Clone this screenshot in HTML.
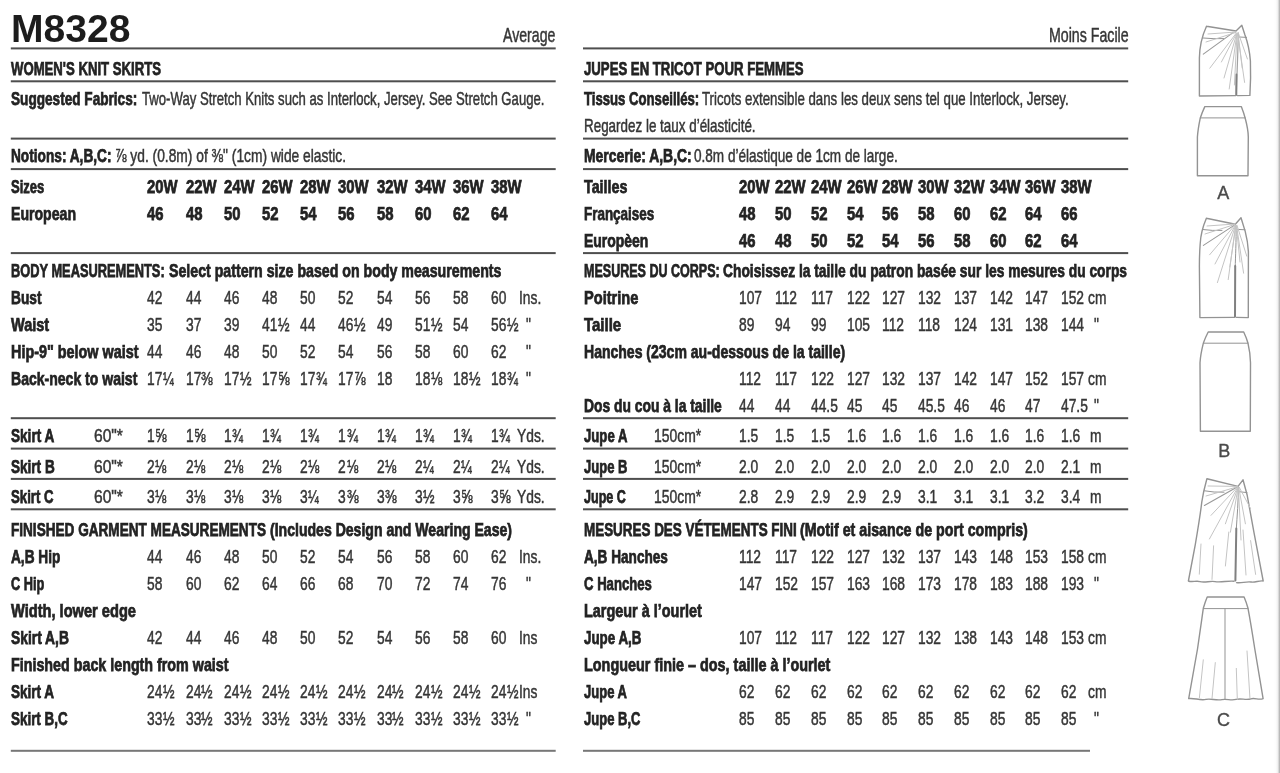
<!DOCTYPE html>
<html><head><meta charset="utf-8"><title>M8328</title>
<style>
html,body{margin:0;padding:0;background:#fff;}
body{width:1280px;height:773px;position:relative;overflow:hidden;font-family:"Liberation Sans",sans-serif;}
.t{position:absolute;white-space:pre;line-height:1;transform-origin:0 0;color:#363636;font-size:19px;-webkit-text-stroke:0.5px #363636;}
.b{font-weight:700;color:#232323;-webkit-text-stroke:0.75px #232323;}
#tx{position:absolute;left:0;top:0;width:1280px;height:773px;filter:blur(0.45px);}
.h{color:#1c1c1c;-webkit-text-stroke:0;}
.f{-webkit-text-stroke:0.55px #363636;}
.r{position:absolute;height:2px;background:#5e5e5e;}
svg{position:absolute;left:0;top:0;}
</style></head><body>
<div id="tx">
<svg width="1280" height="773" viewBox="0 0 1280 773"><rect x="10.8" y="47.40" width="544.9" height="2.00" fill="#4e4e4e"/><rect x="583.0" y="47.40" width="545.2" height="2.00" fill="#4e4e4e"/><rect x="10.8" y="80.30" width="544.9" height="2.00" fill="#4e4e4e"/><rect x="583.0" y="80.30" width="545.2" height="2.00" fill="#4e4e4e"/><rect x="10.8" y="137.60" width="544.9" height="2.00" fill="#4e4e4e"/><rect x="583.0" y="137.60" width="545.2" height="2.00" fill="#4e4e4e"/><rect x="10.8" y="168.10" width="544.9" height="2.00" fill="#4e4e4e"/><rect x="583.0" y="168.10" width="545.2" height="2.00" fill="#4e4e4e"/><rect x="10.8" y="252.10" width="544.9" height="2.00" fill="#4e4e4e"/><rect x="583.0" y="252.10" width="545.2" height="2.00" fill="#4e4e4e"/><rect x="10.8" y="417.20" width="544.9" height="2.00" fill="#4e4e4e"/><rect x="583.0" y="417.20" width="545.2" height="2.00" fill="#4e4e4e"/><rect x="10.8" y="447.60" width="544.9" height="2.00" fill="#4e4e4e"/><rect x="583.0" y="447.60" width="545.2" height="2.00" fill="#4e4e4e"/><rect x="10.8" y="477.90" width="544.9" height="2.00" fill="#4e4e4e"/><rect x="583.0" y="477.90" width="545.2" height="2.00" fill="#4e4e4e"/><rect x="10.8" y="508.30" width="544.9" height="2.00" fill="#4e4e4e"/><rect x="583.0" y="508.30" width="545.2" height="2.00" fill="#4e4e4e"/><rect x="10.8" y="749.80" width="544.9" height="2.00" fill="#777"/><rect x="583.0" y="749.80" width="507.0" height="2.00" fill="#777"/></svg>
<span class="t b h" style="left:11.20px;top:9.51px;transform:scaleX(1.0143);font-size:38.5px">M8328</span>
<span class="t" style="left:503.40px;top:24.32px;transform:scaleX(0.6731);font-size:21px">Average</span>
<span class="t b" style="left:11.30px;top:59.02px;transform:scaleX(0.6922)">WOMEN'S KNIT SKIRTS</span>
<span class="t b" style="left:11.30px;top:89.02px;transform:scaleX(0.7163)">Suggested Fabrics:</span>
<span class="t" style="left:142.30px;top:89.02px;transform:scaleX(0.6917)">Two-Way Stretch Knits such as Interlock, Jersey. See Stretch Gauge.</span>
<span class="t b" style="left:11.30px;top:146.02px;transform:scaleX(0.7195)">Notions: A,B,C:</span>
<span class="t" style="left:115.00px;top:146.02px;transform:scaleX(0.7259)">⅞ yd. (0.8m) of ⅜" (1cm) wide elastic.</span>
<span class="t b" style="left:11.30px;top:177.02px;transform:scaleX(0.6853)">Sizes</span>
<span class="t b" style="left:147.30px;top:177.02px;transform:scaleX(0.7820)">20W</span>
<span class="t b" style="left:185.52px;top:177.02px;transform:scaleX(0.7820)">22W</span>
<span class="t b" style="left:223.74px;top:177.02px;transform:scaleX(0.7820)">24W</span>
<span class="t b" style="left:261.96px;top:177.02px;transform:scaleX(0.7820)">26W</span>
<span class="t b" style="left:300.18px;top:177.02px;transform:scaleX(0.7820)">28W</span>
<span class="t b" style="left:338.40px;top:177.02px;transform:scaleX(0.7820)">30W</span>
<span class="t b" style="left:376.62px;top:177.02px;transform:scaleX(0.7820)">32W</span>
<span class="t b" style="left:414.84px;top:177.02px;transform:scaleX(0.7820)">34W</span>
<span class="t b" style="left:453.06px;top:177.02px;transform:scaleX(0.7820)">36W</span>
<span class="t b" style="left:491.28px;top:177.02px;transform:scaleX(0.7820)">38W</span>
<span class="t b" style="left:11.30px;top:204.02px;transform:scaleX(0.7418)">European</span>
<span class="t b" style="left:147.30px;top:204.02px;transform:scaleX(0.7820)">46</span>
<span class="t b" style="left:185.52px;top:204.02px;transform:scaleX(0.7820)">48</span>
<span class="t b" style="left:223.74px;top:204.02px;transform:scaleX(0.7820)">50</span>
<span class="t b" style="left:261.96px;top:204.02px;transform:scaleX(0.7820)">52</span>
<span class="t b" style="left:300.18px;top:204.02px;transform:scaleX(0.7820)">54</span>
<span class="t b" style="left:338.40px;top:204.02px;transform:scaleX(0.7820)">56</span>
<span class="t b" style="left:376.62px;top:204.02px;transform:scaleX(0.7820)">58</span>
<span class="t b" style="left:414.84px;top:204.02px;transform:scaleX(0.7820)">60</span>
<span class="t b" style="left:453.06px;top:204.02px;transform:scaleX(0.7820)">62</span>
<span class="t b" style="left:491.28px;top:204.02px;transform:scaleX(0.7820)">64</span>
<span class="t b" style="left:11.30px;top:261.02px;transform:scaleX(0.6751)">BODY MEASUREMENTS:</span>
<span class="t b" style="left:168.60px;top:261.02px;transform:scaleX(0.7460)">Select pattern size based on body measurements</span>
<span class="t b" style="left:11.30px;top:288.02px;transform:scaleX(0.7222)">Bust</span>
<span class="t" style="left:147.30px;top:288.02px;transform:scaleX(0.7270)">42</span>
<span class="t" style="left:185.52px;top:288.02px;transform:scaleX(0.7270)">44</span>
<span class="t" style="left:223.74px;top:288.02px;transform:scaleX(0.7270)">46</span>
<span class="t" style="left:261.96px;top:288.02px;transform:scaleX(0.7270)">48</span>
<span class="t" style="left:300.18px;top:288.02px;transform:scaleX(0.7270)">50</span>
<span class="t" style="left:338.40px;top:288.02px;transform:scaleX(0.7270)">52</span>
<span class="t" style="left:376.62px;top:288.02px;transform:scaleX(0.7270)">54</span>
<span class="t" style="left:414.84px;top:288.02px;transform:scaleX(0.7270)">56</span>
<span class="t" style="left:453.06px;top:288.02px;transform:scaleX(0.7270)">58</span>
<span class="t" style="left:491.28px;top:288.02px;transform:scaleX(0.7270)">60</span>
<span class="t" style="left:518.60px;top:288.02px;transform:scaleX(0.7270)">Ins.</span>
<span class="t b" style="left:11.30px;top:315.02px;transform:scaleX(0.7625)">Waist</span>
<span class="t" style="left:147.30px;top:315.02px;transform:scaleX(0.7270)">35</span>
<span class="t" style="left:185.52px;top:315.02px;transform:scaleX(0.7270)">37</span>
<span class="t" style="left:223.74px;top:315.02px;transform:scaleX(0.7270)">39</span>
<span class="t" style="left:261.96px;top:315.02px;transform:scaleX(0.7270)">41</span>
<span class="t f" style="left:277.82px;top:315.02px;transform:scaleX(0.7270)">½</span>
<span class="t" style="left:300.18px;top:315.02px;transform:scaleX(0.7270)">44</span>
<span class="t" style="left:338.40px;top:315.02px;transform:scaleX(0.7270)">46</span>
<span class="t f" style="left:354.26px;top:315.02px;transform:scaleX(0.7270)">½</span>
<span class="t" style="left:376.62px;top:315.02px;transform:scaleX(0.7270)">49</span>
<span class="t" style="left:414.84px;top:315.02px;transform:scaleX(0.7270)">51</span>
<span class="t f" style="left:430.70px;top:315.02px;transform:scaleX(0.7270)">½</span>
<span class="t" style="left:453.06px;top:315.02px;transform:scaleX(0.7270)">54</span>
<span class="t" style="left:491.28px;top:315.02px;transform:scaleX(0.7270)">56</span>
<span class="t f" style="left:507.14px;top:315.02px;transform:scaleX(0.7270)">½</span>
<span class="t" style="left:526.00px;top:315.02px;transform:scaleX(0.7270)">"</span>
<span class="t b" style="left:11.30px;top:342.02px;transform:scaleX(0.7570)">Hip-9" below waist</span>
<span class="t" style="left:147.30px;top:342.02px;transform:scaleX(0.7270)">44</span>
<span class="t" style="left:185.52px;top:342.02px;transform:scaleX(0.7270)">46</span>
<span class="t" style="left:223.74px;top:342.02px;transform:scaleX(0.7270)">48</span>
<span class="t" style="left:261.96px;top:342.02px;transform:scaleX(0.7270)">50</span>
<span class="t" style="left:300.18px;top:342.02px;transform:scaleX(0.7270)">52</span>
<span class="t" style="left:338.40px;top:342.02px;transform:scaleX(0.7270)">54</span>
<span class="t" style="left:376.62px;top:342.02px;transform:scaleX(0.7270)">56</span>
<span class="t" style="left:414.84px;top:342.02px;transform:scaleX(0.7270)">58</span>
<span class="t" style="left:453.06px;top:342.02px;transform:scaleX(0.7270)">60</span>
<span class="t" style="left:491.28px;top:342.02px;transform:scaleX(0.7270)">62</span>
<span class="t" style="left:526.00px;top:342.02px;transform:scaleX(0.7270)">"</span>
<span class="t b" style="left:11.30px;top:369.02px;transform:scaleX(0.7383)">Back-neck to waist</span>
<span class="t" style="left:147.30px;top:369.02px;transform:scaleX(0.7270)">17</span>
<span class="t f" style="left:163.16px;top:369.02px;transform:scaleX(0.6761)">¼</span>
<span class="t" style="left:185.52px;top:369.02px;transform:scaleX(0.7270)">17</span>
<span class="t f" style="left:201.38px;top:369.02px;transform:scaleX(0.7270)">⅜</span>
<span class="t" style="left:223.74px;top:369.02px;transform:scaleX(0.7270)">17</span>
<span class="t f" style="left:239.60px;top:369.02px;transform:scaleX(0.7270)">½</span>
<span class="t" style="left:261.96px;top:369.02px;transform:scaleX(0.7270)">17</span>
<span class="t f" style="left:277.82px;top:369.02px;transform:scaleX(0.7270)">⅝</span>
<span class="t" style="left:300.18px;top:369.02px;transform:scaleX(0.7270)">17</span>
<span class="t f" style="left:316.04px;top:369.02px;transform:scaleX(0.6906)">¾</span>
<span class="t" style="left:338.40px;top:369.02px;transform:scaleX(0.7270)">17</span>
<span class="t f" style="left:354.26px;top:369.02px;transform:scaleX(0.7270)">⅞</span>
<span class="t" style="left:376.62px;top:369.02px;transform:scaleX(0.7270)">18</span>
<span class="t" style="left:414.84px;top:369.02px;transform:scaleX(0.7270)">18</span>
<span class="t f" style="left:430.70px;top:369.02px;transform:scaleX(0.7052)">⅛</span>
<span class="t" style="left:453.06px;top:369.02px;transform:scaleX(0.7270)">18</span>
<span class="t f" style="left:468.92px;top:369.02px;transform:scaleX(0.7270)">½</span>
<span class="t" style="left:491.28px;top:369.02px;transform:scaleX(0.7270)">18</span>
<span class="t f" style="left:507.14px;top:369.02px;transform:scaleX(0.6906)">¾</span>
<span class="t" style="left:526.00px;top:369.02px;transform:scaleX(0.7270)">"</span>
<span class="t b" style="left:11.30px;top:426.02px;transform:scaleX(0.7151)">Skirt A</span>
<span class="t" style="left:94.30px;top:426.02px;transform:scaleX(0.8191)">60"*</span>
<span class="t" style="left:147.30px;top:426.02px;transform:scaleX(0.7270)">1</span>
<span class="t f" style="left:155.48px;top:426.02px;transform:scaleX(0.7270)">⅝</span>
<span class="t" style="left:185.52px;top:426.02px;transform:scaleX(0.7270)">1</span>
<span class="t f" style="left:193.70px;top:426.02px;transform:scaleX(0.7270)">⅝</span>
<span class="t" style="left:223.74px;top:426.02px;transform:scaleX(0.7270)">1</span>
<span class="t f" style="left:231.92px;top:426.02px;transform:scaleX(0.6906)">¾</span>
<span class="t" style="left:261.96px;top:426.02px;transform:scaleX(0.7270)">1</span>
<span class="t f" style="left:270.14px;top:426.02px;transform:scaleX(0.6906)">¾</span>
<span class="t" style="left:300.18px;top:426.02px;transform:scaleX(0.7270)">1</span>
<span class="t f" style="left:308.36px;top:426.02px;transform:scaleX(0.6906)">¾</span>
<span class="t" style="left:338.40px;top:426.02px;transform:scaleX(0.7270)">1</span>
<span class="t f" style="left:346.58px;top:426.02px;transform:scaleX(0.6906)">¾</span>
<span class="t" style="left:376.62px;top:426.02px;transform:scaleX(0.7270)">1</span>
<span class="t f" style="left:384.80px;top:426.02px;transform:scaleX(0.6906)">¾</span>
<span class="t" style="left:414.84px;top:426.02px;transform:scaleX(0.7270)">1</span>
<span class="t f" style="left:423.02px;top:426.02px;transform:scaleX(0.6906)">¾</span>
<span class="t" style="left:453.06px;top:426.02px;transform:scaleX(0.7270)">1</span>
<span class="t f" style="left:461.24px;top:426.02px;transform:scaleX(0.6906)">¾</span>
<span class="t" style="left:491.28px;top:426.02px;transform:scaleX(0.7270)">1</span>
<span class="t f" style="left:499.46px;top:426.02px;transform:scaleX(0.6906)">¾</span>
<span class="t" style="left:517.00px;top:426.02px;transform:scaleX(0.7270)">Yds.</span>
<span class="t b" style="left:11.30px;top:457.02px;transform:scaleX(0.7135)">Skirt B</span>
<span class="t" style="left:94.30px;top:457.02px;transform:scaleX(0.8191)">60"*</span>
<span class="t" style="left:147.30px;top:457.02px;transform:scaleX(0.7270)">2</span>
<span class="t f" style="left:155.48px;top:457.02px;transform:scaleX(0.7052)">⅛</span>
<span class="t" style="left:185.52px;top:457.02px;transform:scaleX(0.7270)">2</span>
<span class="t f" style="left:193.70px;top:457.02px;transform:scaleX(0.7052)">⅛</span>
<span class="t" style="left:223.74px;top:457.02px;transform:scaleX(0.7270)">2</span>
<span class="t f" style="left:231.92px;top:457.02px;transform:scaleX(0.7052)">⅛</span>
<span class="t" style="left:261.96px;top:457.02px;transform:scaleX(0.7270)">2</span>
<span class="t f" style="left:270.14px;top:457.02px;transform:scaleX(0.7052)">⅛</span>
<span class="t" style="left:300.18px;top:457.02px;transform:scaleX(0.7270)">2</span>
<span class="t f" style="left:308.36px;top:457.02px;transform:scaleX(0.7052)">⅛</span>
<span class="t" style="left:338.40px;top:457.02px;transform:scaleX(0.7270)">2</span>
<span class="t f" style="left:346.58px;top:457.02px;transform:scaleX(0.7052)">⅛</span>
<span class="t" style="left:376.62px;top:457.02px;transform:scaleX(0.7270)">2</span>
<span class="t f" style="left:384.80px;top:457.02px;transform:scaleX(0.7052)">⅛</span>
<span class="t" style="left:414.84px;top:457.02px;transform:scaleX(0.7270)">2</span>
<span class="t f" style="left:423.02px;top:457.02px;transform:scaleX(0.6761)">¼</span>
<span class="t" style="left:453.06px;top:457.02px;transform:scaleX(0.7270)">2</span>
<span class="t f" style="left:461.24px;top:457.02px;transform:scaleX(0.6761)">¼</span>
<span class="t" style="left:491.28px;top:457.02px;transform:scaleX(0.7270)">2</span>
<span class="t f" style="left:499.46px;top:457.02px;transform:scaleX(0.6761)">¼</span>
<span class="t" style="left:517.00px;top:457.02px;transform:scaleX(0.7270)">Yds.</span>
<span class="t b" style="left:11.30px;top:487.02px;transform:scaleX(0.6939)">Skirt C</span>
<span class="t" style="left:94.30px;top:487.02px;transform:scaleX(0.8191)">60"*</span>
<span class="t" style="left:147.30px;top:487.02px;transform:scaleX(0.7270)">3</span>
<span class="t f" style="left:155.48px;top:487.02px;transform:scaleX(0.7052)">⅛</span>
<span class="t" style="left:185.52px;top:487.02px;transform:scaleX(0.7270)">3</span>
<span class="t f" style="left:193.70px;top:487.02px;transform:scaleX(0.7052)">⅛</span>
<span class="t" style="left:223.74px;top:487.02px;transform:scaleX(0.7270)">3</span>
<span class="t f" style="left:231.92px;top:487.02px;transform:scaleX(0.7052)">⅛</span>
<span class="t" style="left:261.96px;top:487.02px;transform:scaleX(0.7270)">3</span>
<span class="t f" style="left:270.14px;top:487.02px;transform:scaleX(0.7052)">⅛</span>
<span class="t" style="left:300.18px;top:487.02px;transform:scaleX(0.7270)">3</span>
<span class="t f" style="left:308.36px;top:487.02px;transform:scaleX(0.6761)">¼</span>
<span class="t" style="left:338.40px;top:487.02px;transform:scaleX(0.7270)">3</span>
<span class="t f" style="left:346.58px;top:487.02px;transform:scaleX(0.7270)">⅜</span>
<span class="t" style="left:376.62px;top:487.02px;transform:scaleX(0.7270)">3</span>
<span class="t f" style="left:384.80px;top:487.02px;transform:scaleX(0.7270)">⅜</span>
<span class="t" style="left:414.84px;top:487.02px;transform:scaleX(0.7270)">3</span>
<span class="t f" style="left:423.02px;top:487.02px;transform:scaleX(0.7270)">½</span>
<span class="t" style="left:453.06px;top:487.02px;transform:scaleX(0.7270)">3</span>
<span class="t f" style="left:461.24px;top:487.02px;transform:scaleX(0.7270)">⅝</span>
<span class="t" style="left:491.28px;top:487.02px;transform:scaleX(0.7270)">3</span>
<span class="t f" style="left:499.46px;top:487.02px;transform:scaleX(0.7270)">⅝</span>
<span class="t" style="left:517.00px;top:487.02px;transform:scaleX(0.7270)">Yds.</span>
<span class="t b" style="left:11.30px;top:520.02px;transform:scaleX(0.7147)">FINISHED GARMENT MEASUREMENTS</span>
<span class="t b" style="left:269.80px;top:520.02px;transform:scaleX(0.7402)">(Includes Design and Wearing Ease)</span>
<span class="t b" style="left:11.30px;top:547.02px;transform:scaleX(0.7186)">A,B Hip</span>
<span class="t" style="left:147.30px;top:547.02px;transform:scaleX(0.7270)">44</span>
<span class="t" style="left:185.52px;top:547.02px;transform:scaleX(0.7270)">46</span>
<span class="t" style="left:223.74px;top:547.02px;transform:scaleX(0.7270)">48</span>
<span class="t" style="left:261.96px;top:547.02px;transform:scaleX(0.7270)">50</span>
<span class="t" style="left:300.18px;top:547.02px;transform:scaleX(0.7270)">52</span>
<span class="t" style="left:338.40px;top:547.02px;transform:scaleX(0.7270)">54</span>
<span class="t" style="left:376.62px;top:547.02px;transform:scaleX(0.7270)">56</span>
<span class="t" style="left:414.84px;top:547.02px;transform:scaleX(0.7270)">58</span>
<span class="t" style="left:453.06px;top:547.02px;transform:scaleX(0.7270)">60</span>
<span class="t" style="left:491.28px;top:547.02px;transform:scaleX(0.7270)">62</span>
<span class="t" style="left:518.60px;top:547.02px;transform:scaleX(0.7270)">Ins.</span>
<span class="t b" style="left:11.30px;top:574.02px;transform:scaleX(0.6733)">C Hip</span>
<span class="t" style="left:147.30px;top:574.02px;transform:scaleX(0.7270)">58</span>
<span class="t" style="left:185.52px;top:574.02px;transform:scaleX(0.7270)">60</span>
<span class="t" style="left:223.74px;top:574.02px;transform:scaleX(0.7270)">62</span>
<span class="t" style="left:261.96px;top:574.02px;transform:scaleX(0.7270)">64</span>
<span class="t" style="left:300.18px;top:574.02px;transform:scaleX(0.7270)">66</span>
<span class="t" style="left:338.40px;top:574.02px;transform:scaleX(0.7270)">68</span>
<span class="t" style="left:376.62px;top:574.02px;transform:scaleX(0.7270)">70</span>
<span class="t" style="left:414.84px;top:574.02px;transform:scaleX(0.7270)">72</span>
<span class="t" style="left:453.06px;top:574.02px;transform:scaleX(0.7270)">74</span>
<span class="t" style="left:491.28px;top:574.02px;transform:scaleX(0.7270)">76</span>
<span class="t" style="left:526.00px;top:574.02px;transform:scaleX(0.7270)">"</span>
<span class="t b" style="left:11.30px;top:601.02px;transform:scaleX(0.7697)">Width, lower edge</span>
<span class="t b" style="left:11.30px;top:628.02px;transform:scaleX(0.7279)">Skirt A,B</span>
<span class="t" style="left:147.30px;top:628.02px;transform:scaleX(0.7270)">42</span>
<span class="t" style="left:185.52px;top:628.02px;transform:scaleX(0.7270)">44</span>
<span class="t" style="left:223.74px;top:628.02px;transform:scaleX(0.7270)">46</span>
<span class="t" style="left:261.96px;top:628.02px;transform:scaleX(0.7270)">48</span>
<span class="t" style="left:300.18px;top:628.02px;transform:scaleX(0.7270)">50</span>
<span class="t" style="left:338.40px;top:628.02px;transform:scaleX(0.7270)">52</span>
<span class="t" style="left:376.62px;top:628.02px;transform:scaleX(0.7270)">54</span>
<span class="t" style="left:414.84px;top:628.02px;transform:scaleX(0.7270)">56</span>
<span class="t" style="left:453.06px;top:628.02px;transform:scaleX(0.7270)">58</span>
<span class="t" style="left:491.28px;top:628.02px;transform:scaleX(0.7270)">60</span>
<span class="t" style="left:518.60px;top:628.02px;transform:scaleX(0.7270)">Ins</span>
<span class="t b" style="left:11.30px;top:655.02px;transform:scaleX(0.7519)">Finished back length from waist</span>
<span class="t b" style="left:11.30px;top:682.02px;transform:scaleX(0.7118)">Skirt A</span>
<span class="t" style="left:147.30px;top:682.02px;transform:scaleX(0.7270)">24</span>
<span class="t f" style="left:163.16px;top:682.02px;transform:scaleX(0.7270)">½</span>
<span class="t" style="left:185.52px;top:682.02px;transform:scaleX(0.7270)">24</span>
<span class="t f" style="left:201.38px;top:682.02px;transform:scaleX(0.7270)">½</span>
<span class="t" style="left:223.74px;top:682.02px;transform:scaleX(0.7270)">24</span>
<span class="t f" style="left:239.60px;top:682.02px;transform:scaleX(0.7270)">½</span>
<span class="t" style="left:261.96px;top:682.02px;transform:scaleX(0.7270)">24</span>
<span class="t f" style="left:277.82px;top:682.02px;transform:scaleX(0.7270)">½</span>
<span class="t" style="left:300.18px;top:682.02px;transform:scaleX(0.7270)">24</span>
<span class="t f" style="left:316.04px;top:682.02px;transform:scaleX(0.7270)">½</span>
<span class="t" style="left:338.40px;top:682.02px;transform:scaleX(0.7270)">24</span>
<span class="t f" style="left:354.26px;top:682.02px;transform:scaleX(0.7270)">½</span>
<span class="t" style="left:376.62px;top:682.02px;transform:scaleX(0.7270)">24</span>
<span class="t f" style="left:392.48px;top:682.02px;transform:scaleX(0.7270)">½</span>
<span class="t" style="left:414.84px;top:682.02px;transform:scaleX(0.7270)">24</span>
<span class="t f" style="left:430.70px;top:682.02px;transform:scaleX(0.7270)">½</span>
<span class="t" style="left:453.06px;top:682.02px;transform:scaleX(0.7270)">24</span>
<span class="t f" style="left:468.92px;top:682.02px;transform:scaleX(0.7270)">½</span>
<span class="t" style="left:491.28px;top:682.02px;transform:scaleX(0.7270)">24</span>
<span class="t f" style="left:507.14px;top:682.02px;transform:scaleX(0.7270)">½</span>
<span class="t" style="left:518.60px;top:682.02px;transform:scaleX(0.7270)">Ins</span>
<span class="t b" style="left:11.30px;top:709.02px;transform:scaleX(0.7065)">Skirt B,C</span>
<span class="t" style="left:147.30px;top:709.02px;transform:scaleX(0.7270)">33</span>
<span class="t f" style="left:163.16px;top:709.02px;transform:scaleX(0.7270)">½</span>
<span class="t" style="left:185.52px;top:709.02px;transform:scaleX(0.7270)">33</span>
<span class="t f" style="left:201.38px;top:709.02px;transform:scaleX(0.7270)">½</span>
<span class="t" style="left:223.74px;top:709.02px;transform:scaleX(0.7270)">33</span>
<span class="t f" style="left:239.60px;top:709.02px;transform:scaleX(0.7270)">½</span>
<span class="t" style="left:261.96px;top:709.02px;transform:scaleX(0.7270)">33</span>
<span class="t f" style="left:277.82px;top:709.02px;transform:scaleX(0.7270)">½</span>
<span class="t" style="left:300.18px;top:709.02px;transform:scaleX(0.7270)">33</span>
<span class="t f" style="left:316.04px;top:709.02px;transform:scaleX(0.7270)">½</span>
<span class="t" style="left:338.40px;top:709.02px;transform:scaleX(0.7270)">33</span>
<span class="t f" style="left:354.26px;top:709.02px;transform:scaleX(0.7270)">½</span>
<span class="t" style="left:376.62px;top:709.02px;transform:scaleX(0.7270)">33</span>
<span class="t f" style="left:392.48px;top:709.02px;transform:scaleX(0.7270)">½</span>
<span class="t" style="left:414.84px;top:709.02px;transform:scaleX(0.7270)">33</span>
<span class="t f" style="left:430.70px;top:709.02px;transform:scaleX(0.7270)">½</span>
<span class="t" style="left:453.06px;top:709.02px;transform:scaleX(0.7270)">33</span>
<span class="t f" style="left:468.92px;top:709.02px;transform:scaleX(0.7270)">½</span>
<span class="t" style="left:491.28px;top:709.02px;transform:scaleX(0.7270)">33</span>
<span class="t f" style="left:507.14px;top:709.02px;transform:scaleX(0.7270)">½</span>
<span class="t" style="left:526.00px;top:709.02px;transform:scaleX(0.7270)">"</span>
<span class="t" style="left:1048.60px;top:24.32px;transform:scaleX(0.6753);font-size:21px">Moins Facile</span>
<span class="t b" style="left:583.60px;top:59.02px;transform:scaleX(0.6934)">JUPES EN TRICOT POUR FEMMES</span>
<span class="t b" style="left:583.60px;top:89.02px;transform:scaleX(0.6919)">Tissus Conseillés:</span>
<span class="t" style="left:702.30px;top:89.02px;transform:scaleX(0.6986)">Tricots extensible dans les deux sens tel que Interlock, Jersey.</span>
<span class="t" style="left:583.60px;top:116.02px;transform:scaleX(0.7064)">Regardez le taux d’élasticité.</span>
<span class="t b" style="left:583.60px;top:146.02px;transform:scaleX(0.7320)">Mercerie: A,B,C:</span>
<span class="t" style="left:694.00px;top:146.02px;transform:scaleX(0.7143)">0.8m d’élastique de 1cm de large.</span>
<span class="t b" style="left:583.60px;top:177.02px;transform:scaleX(0.7517)">Tailles</span>
<span class="t b" style="left:739.30px;top:177.02px;transform:scaleX(0.7820)">20W</span>
<span class="t b" style="left:775.05px;top:177.02px;transform:scaleX(0.7820)">22W</span>
<span class="t b" style="left:810.80px;top:177.02px;transform:scaleX(0.7820)">24W</span>
<span class="t b" style="left:846.55px;top:177.02px;transform:scaleX(0.7820)">26W</span>
<span class="t b" style="left:882.30px;top:177.02px;transform:scaleX(0.7820)">28W</span>
<span class="t b" style="left:918.05px;top:177.02px;transform:scaleX(0.7820)">30W</span>
<span class="t b" style="left:953.80px;top:177.02px;transform:scaleX(0.7820)">32W</span>
<span class="t b" style="left:989.55px;top:177.02px;transform:scaleX(0.7820)">34W</span>
<span class="t b" style="left:1025.30px;top:177.02px;transform:scaleX(0.7820)">36W</span>
<span class="t b" style="left:1061.05px;top:177.02px;transform:scaleX(0.7820)">38W</span>
<span class="t b" style="left:583.60px;top:204.02px;transform:scaleX(0.7070)">Françaises</span>
<span class="t b" style="left:739.30px;top:204.02px;transform:scaleX(0.7820)">48</span>
<span class="t b" style="left:775.05px;top:204.02px;transform:scaleX(0.7820)">50</span>
<span class="t b" style="left:810.80px;top:204.02px;transform:scaleX(0.7820)">52</span>
<span class="t b" style="left:846.55px;top:204.02px;transform:scaleX(0.7820)">54</span>
<span class="t b" style="left:882.30px;top:204.02px;transform:scaleX(0.7820)">56</span>
<span class="t b" style="left:918.05px;top:204.02px;transform:scaleX(0.7820)">58</span>
<span class="t b" style="left:953.80px;top:204.02px;transform:scaleX(0.7820)">60</span>
<span class="t b" style="left:989.55px;top:204.02px;transform:scaleX(0.7820)">62</span>
<span class="t b" style="left:1025.30px;top:204.02px;transform:scaleX(0.7820)">64</span>
<span class="t b" style="left:1061.05px;top:204.02px;transform:scaleX(0.7820)">66</span>
<span class="t b" style="left:583.60px;top:231.02px;transform:scaleX(0.7350)">Europèen</span>
<span class="t b" style="left:739.30px;top:231.02px;transform:scaleX(0.7820)">46</span>
<span class="t b" style="left:775.05px;top:231.02px;transform:scaleX(0.7820)">48</span>
<span class="t b" style="left:810.80px;top:231.02px;transform:scaleX(0.7820)">50</span>
<span class="t b" style="left:846.55px;top:231.02px;transform:scaleX(0.7820)">52</span>
<span class="t b" style="left:882.30px;top:231.02px;transform:scaleX(0.7820)">54</span>
<span class="t b" style="left:918.05px;top:231.02px;transform:scaleX(0.7820)">56</span>
<span class="t b" style="left:953.80px;top:231.02px;transform:scaleX(0.7820)">58</span>
<span class="t b" style="left:989.55px;top:231.02px;transform:scaleX(0.7820)">60</span>
<span class="t b" style="left:1025.30px;top:231.02px;transform:scaleX(0.7820)">62</span>
<span class="t b" style="left:1061.05px;top:231.02px;transform:scaleX(0.7820)">64</span>
<span class="t b" style="left:583.60px;top:261.02px;transform:scaleX(0.6592)">MESURES DU CORPS:</span>
<span class="t b" style="left:722.80px;top:261.02px;transform:scaleX(0.7260)">Choisissez la taille du patron basée sur les mesures du corps</span>
<span class="t b" style="left:583.60px;top:288.02px;transform:scaleX(0.7691)">Poitrine</span>
<span class="t" style="left:739.30px;top:288.02px;transform:scaleX(0.7270)">107</span>
<span class="t" style="left:775.05px;top:288.02px;transform:scaleX(0.7270)">112</span>
<span class="t" style="left:810.80px;top:288.02px;transform:scaleX(0.7270)">117</span>
<span class="t" style="left:846.55px;top:288.02px;transform:scaleX(0.7270)">122</span>
<span class="t" style="left:882.30px;top:288.02px;transform:scaleX(0.7270)">127</span>
<span class="t" style="left:918.05px;top:288.02px;transform:scaleX(0.7270)">132</span>
<span class="t" style="left:953.80px;top:288.02px;transform:scaleX(0.7270)">137</span>
<span class="t" style="left:989.55px;top:288.02px;transform:scaleX(0.7270)">142</span>
<span class="t" style="left:1025.30px;top:288.02px;transform:scaleX(0.7270)">147</span>
<span class="t" style="left:1061.05px;top:288.02px;transform:scaleX(0.7270)">152</span>
<span class="t" style="left:1087.50px;top:288.02px;transform:scaleX(0.7270)">cm</span>
<span class="t b" style="left:583.60px;top:315.02px;transform:scaleX(0.7886)">Taille</span>
<span class="t" style="left:739.30px;top:315.02px;transform:scaleX(0.7270)">89</span>
<span class="t" style="left:775.05px;top:315.02px;transform:scaleX(0.7270)">94</span>
<span class="t" style="left:810.80px;top:315.02px;transform:scaleX(0.7270)">99</span>
<span class="t" style="left:846.55px;top:315.02px;transform:scaleX(0.7270)">105</span>
<span class="t" style="left:882.30px;top:315.02px;transform:scaleX(0.7270)">112</span>
<span class="t" style="left:918.05px;top:315.02px;transform:scaleX(0.7270)">118</span>
<span class="t" style="left:953.80px;top:315.02px;transform:scaleX(0.7270)">124</span>
<span class="t" style="left:989.55px;top:315.02px;transform:scaleX(0.7270)">131</span>
<span class="t" style="left:1025.30px;top:315.02px;transform:scaleX(0.7270)">138</span>
<span class="t" style="left:1061.05px;top:315.02px;transform:scaleX(0.7270)">144</span>
<span class="t" style="left:1094.00px;top:315.02px;transform:scaleX(0.7270)">"</span>
<span class="t b" style="left:583.60px;top:342.02px;transform:scaleX(0.7381)">Hanches (23cm au-dessous de la taille)</span>
<span class="t" style="left:739.30px;top:369.02px;transform:scaleX(0.7270)">112</span>
<span class="t" style="left:775.05px;top:369.02px;transform:scaleX(0.7270)">117</span>
<span class="t" style="left:810.80px;top:369.02px;transform:scaleX(0.7270)">122</span>
<span class="t" style="left:846.55px;top:369.02px;transform:scaleX(0.7270)">127</span>
<span class="t" style="left:882.30px;top:369.02px;transform:scaleX(0.7270)">132</span>
<span class="t" style="left:918.05px;top:369.02px;transform:scaleX(0.7270)">137</span>
<span class="t" style="left:953.80px;top:369.02px;transform:scaleX(0.7270)">142</span>
<span class="t" style="left:989.55px;top:369.02px;transform:scaleX(0.7270)">147</span>
<span class="t" style="left:1025.30px;top:369.02px;transform:scaleX(0.7270)">152</span>
<span class="t" style="left:1061.05px;top:369.02px;transform:scaleX(0.7270)">157</span>
<span class="t" style="left:1087.50px;top:369.02px;transform:scaleX(0.7270)">cm</span>
<span class="t b" style="left:583.60px;top:396.02px;transform:scaleX(0.7291)">Dos du cou à la taille</span>
<span class="t" style="left:739.30px;top:396.02px;transform:scaleX(0.7270)">44</span>
<span class="t" style="left:775.05px;top:396.02px;transform:scaleX(0.7270)">44</span>
<span class="t" style="left:810.80px;top:396.02px;transform:scaleX(0.7270)">44.5</span>
<span class="t" style="left:846.55px;top:396.02px;transform:scaleX(0.7270)">45</span>
<span class="t" style="left:882.30px;top:396.02px;transform:scaleX(0.7270)">45</span>
<span class="t" style="left:918.05px;top:396.02px;transform:scaleX(0.7270)">45.5</span>
<span class="t" style="left:953.80px;top:396.02px;transform:scaleX(0.7270)">46</span>
<span class="t" style="left:989.55px;top:396.02px;transform:scaleX(0.7270)">46</span>
<span class="t" style="left:1025.30px;top:396.02px;transform:scaleX(0.7270)">47</span>
<span class="t" style="left:1061.05px;top:396.02px;transform:scaleX(0.7270)">47.5</span>
<span class="t" style="left:1094.00px;top:396.02px;transform:scaleX(0.7270)">"</span>
<span class="t b" style="left:583.60px;top:426.02px;transform:scaleX(0.6928)">Jupe A</span>
<span class="t" style="left:653.50px;top:426.02px;transform:scaleX(0.7327)">150cm*</span>
<span class="t" style="left:739.30px;top:426.02px;transform:scaleX(0.7270)">1.5</span>
<span class="t" style="left:775.05px;top:426.02px;transform:scaleX(0.7270)">1.5</span>
<span class="t" style="left:810.80px;top:426.02px;transform:scaleX(0.7270)">1.5</span>
<span class="t" style="left:846.55px;top:426.02px;transform:scaleX(0.7270)">1.6</span>
<span class="t" style="left:882.30px;top:426.02px;transform:scaleX(0.7270)">1.6</span>
<span class="t" style="left:918.05px;top:426.02px;transform:scaleX(0.7270)">1.6</span>
<span class="t" style="left:953.80px;top:426.02px;transform:scaleX(0.7270)">1.6</span>
<span class="t" style="left:989.55px;top:426.02px;transform:scaleX(0.7270)">1.6</span>
<span class="t" style="left:1025.30px;top:426.02px;transform:scaleX(0.7270)">1.6</span>
<span class="t" style="left:1061.05px;top:426.02px;transform:scaleX(0.7270)">1.6</span>
<span class="t" style="left:1090.40px;top:426.02px;transform:scaleX(0.7270)">m</span>
<span class="t b" style="left:583.60px;top:457.02px;transform:scaleX(0.6850)">Jupe B</span>
<span class="t" style="left:653.50px;top:457.02px;transform:scaleX(0.7327)">150cm*</span>
<span class="t" style="left:739.30px;top:457.02px;transform:scaleX(0.7270)">2.0</span>
<span class="t" style="left:775.05px;top:457.02px;transform:scaleX(0.7270)">2.0</span>
<span class="t" style="left:810.80px;top:457.02px;transform:scaleX(0.7270)">2.0</span>
<span class="t" style="left:846.55px;top:457.02px;transform:scaleX(0.7270)">2.0</span>
<span class="t" style="left:882.30px;top:457.02px;transform:scaleX(0.7270)">2.0</span>
<span class="t" style="left:918.05px;top:457.02px;transform:scaleX(0.7270)">2.0</span>
<span class="t" style="left:953.80px;top:457.02px;transform:scaleX(0.7270)">2.0</span>
<span class="t" style="left:989.55px;top:457.02px;transform:scaleX(0.7270)">2.0</span>
<span class="t" style="left:1025.30px;top:457.02px;transform:scaleX(0.7270)">2.0</span>
<span class="t" style="left:1061.05px;top:457.02px;transform:scaleX(0.7270)">2.1</span>
<span class="t" style="left:1090.40px;top:457.02px;transform:scaleX(0.7270)">m</span>
<span class="t b" style="left:583.60px;top:487.02px;transform:scaleX(0.6613)">Jupe C</span>
<span class="t" style="left:653.50px;top:487.02px;transform:scaleX(0.7327)">150cm*</span>
<span class="t" style="left:739.30px;top:487.02px;transform:scaleX(0.7270)">2.8</span>
<span class="t" style="left:775.05px;top:487.02px;transform:scaleX(0.7270)">2.9</span>
<span class="t" style="left:810.80px;top:487.02px;transform:scaleX(0.7270)">2.9</span>
<span class="t" style="left:846.55px;top:487.02px;transform:scaleX(0.7270)">2.9</span>
<span class="t" style="left:882.30px;top:487.02px;transform:scaleX(0.7270)">2.9</span>
<span class="t" style="left:918.05px;top:487.02px;transform:scaleX(0.7270)">3.1</span>
<span class="t" style="left:953.80px;top:487.02px;transform:scaleX(0.7270)">3.1</span>
<span class="t" style="left:989.55px;top:487.02px;transform:scaleX(0.7270)">3.1</span>
<span class="t" style="left:1025.30px;top:487.02px;transform:scaleX(0.7270)">3.2</span>
<span class="t" style="left:1061.05px;top:487.02px;transform:scaleX(0.7270)">3.4</span>
<span class="t" style="left:1090.40px;top:487.02px;transform:scaleX(0.7270)">m</span>
<span class="t b" style="left:583.60px;top:520.02px;transform:scaleX(0.7069)">MESURES DES VÉTEMENTS FINI</span>
<span class="t b" style="left:799.90px;top:520.02px;transform:scaleX(0.7492)">(Motif et aisance de port compris)</span>
<span class="t b" style="left:583.60px;top:547.02px;transform:scaleX(0.7159)">A,B Hanches</span>
<span class="t" style="left:739.30px;top:547.02px;transform:scaleX(0.7270)">112</span>
<span class="t" style="left:775.05px;top:547.02px;transform:scaleX(0.7270)">117</span>
<span class="t" style="left:810.80px;top:547.02px;transform:scaleX(0.7270)">122</span>
<span class="t" style="left:846.55px;top:547.02px;transform:scaleX(0.7270)">127</span>
<span class="t" style="left:882.30px;top:547.02px;transform:scaleX(0.7270)">132</span>
<span class="t" style="left:918.05px;top:547.02px;transform:scaleX(0.7270)">137</span>
<span class="t" style="left:953.80px;top:547.02px;transform:scaleX(0.7270)">143</span>
<span class="t" style="left:989.55px;top:547.02px;transform:scaleX(0.7270)">148</span>
<span class="t" style="left:1025.30px;top:547.02px;transform:scaleX(0.7270)">153</span>
<span class="t" style="left:1061.05px;top:547.02px;transform:scaleX(0.7270)">158</span>
<span class="t" style="left:1087.50px;top:547.02px;transform:scaleX(0.7270)">cm</span>
<span class="t b" style="left:583.60px;top:574.02px;transform:scaleX(0.6914)">C Hanches</span>
<span class="t" style="left:739.30px;top:574.02px;transform:scaleX(0.7270)">147</span>
<span class="t" style="left:775.05px;top:574.02px;transform:scaleX(0.7270)">152</span>
<span class="t" style="left:810.80px;top:574.02px;transform:scaleX(0.7270)">157</span>
<span class="t" style="left:846.55px;top:574.02px;transform:scaleX(0.7270)">163</span>
<span class="t" style="left:882.30px;top:574.02px;transform:scaleX(0.7270)">168</span>
<span class="t" style="left:918.05px;top:574.02px;transform:scaleX(0.7270)">173</span>
<span class="t" style="left:953.80px;top:574.02px;transform:scaleX(0.7270)">178</span>
<span class="t" style="left:989.55px;top:574.02px;transform:scaleX(0.7270)">183</span>
<span class="t" style="left:1025.30px;top:574.02px;transform:scaleX(0.7270)">188</span>
<span class="t" style="left:1061.05px;top:574.02px;transform:scaleX(0.7270)">193</span>
<span class="t" style="left:1094.00px;top:574.02px;transform:scaleX(0.7270)">"</span>
<span class="t b" style="left:583.60px;top:601.02px;transform:scaleX(0.7596)">Largeur à l’ourlet</span>
<span class="t b" style="left:583.60px;top:628.02px;transform:scaleX(0.7031)">Jupe A,B</span>
<span class="t" style="left:739.30px;top:628.02px;transform:scaleX(0.7270)">107</span>
<span class="t" style="left:775.05px;top:628.02px;transform:scaleX(0.7270)">112</span>
<span class="t" style="left:810.80px;top:628.02px;transform:scaleX(0.7270)">117</span>
<span class="t" style="left:846.55px;top:628.02px;transform:scaleX(0.7270)">122</span>
<span class="t" style="left:882.30px;top:628.02px;transform:scaleX(0.7270)">127</span>
<span class="t" style="left:918.05px;top:628.02px;transform:scaleX(0.7270)">132</span>
<span class="t" style="left:953.80px;top:628.02px;transform:scaleX(0.7270)">138</span>
<span class="t" style="left:989.55px;top:628.02px;transform:scaleX(0.7270)">143</span>
<span class="t" style="left:1025.30px;top:628.02px;transform:scaleX(0.7270)">148</span>
<span class="t" style="left:1061.05px;top:628.02px;transform:scaleX(0.7270)">153</span>
<span class="t" style="left:1087.50px;top:628.02px;transform:scaleX(0.7270)">cm</span>
<span class="t b" style="left:583.60px;top:655.02px;transform:scaleX(0.7578)">Longueur finie – dos, taille à l’ourlet</span>
<span class="t b" style="left:583.60px;top:682.02px;transform:scaleX(0.6849)">Jupe A</span>
<span class="t" style="left:739.30px;top:682.02px;transform:scaleX(0.7270)">62</span>
<span class="t" style="left:775.05px;top:682.02px;transform:scaleX(0.7270)">62</span>
<span class="t" style="left:810.80px;top:682.02px;transform:scaleX(0.7270)">62</span>
<span class="t" style="left:846.55px;top:682.02px;transform:scaleX(0.7270)">62</span>
<span class="t" style="left:882.30px;top:682.02px;transform:scaleX(0.7270)">62</span>
<span class="t" style="left:918.05px;top:682.02px;transform:scaleX(0.7270)">62</span>
<span class="t" style="left:953.80px;top:682.02px;transform:scaleX(0.7270)">62</span>
<span class="t" style="left:989.55px;top:682.02px;transform:scaleX(0.7270)">62</span>
<span class="t" style="left:1025.30px;top:682.02px;transform:scaleX(0.7270)">62</span>
<span class="t" style="left:1061.05px;top:682.02px;transform:scaleX(0.7270)">62</span>
<span class="t" style="left:1087.50px;top:682.02px;transform:scaleX(0.7270)">cm</span>
<span class="t b" style="left:583.60px;top:709.02px;transform:scaleX(0.6848)">Jupe B,C</span>
<span class="t" style="left:739.30px;top:709.02px;transform:scaleX(0.7270)">85</span>
<span class="t" style="left:775.05px;top:709.02px;transform:scaleX(0.7270)">85</span>
<span class="t" style="left:810.80px;top:709.02px;transform:scaleX(0.7270)">85</span>
<span class="t" style="left:846.55px;top:709.02px;transform:scaleX(0.7270)">85</span>
<span class="t" style="left:882.30px;top:709.02px;transform:scaleX(0.7270)">85</span>
<span class="t" style="left:918.05px;top:709.02px;transform:scaleX(0.7270)">85</span>
<span class="t" style="left:953.80px;top:709.02px;transform:scaleX(0.7270)">85</span>
<span class="t" style="left:989.55px;top:709.02px;transform:scaleX(0.7270)">85</span>
<span class="t" style="left:1025.30px;top:709.02px;transform:scaleX(0.7270)">85</span>
<span class="t" style="left:1061.05px;top:709.02px;transform:scaleX(0.7270)">85</span>
<span class="t" style="left:1094.00px;top:709.02px;transform:scaleX(0.7270)">"</span>
</div>
<svg width="1280" height="773" viewBox="0 0 1280 773" style="filter:blur(0.5px)">
<g fill="none" stroke="#939393" stroke-width="1.4" stroke-linejoin="round" stroke-linecap="round">
<!-- A front -->
<path d="M1206.5 26.2 C1202 36 1199.6 46 1199.4 58 L1199.4 96 L1235.8 95.6 M1237.4 95.6 L1249.9 95.4 C1250.6 84 1250.8 72 1250.4 61 C1249.6 50 1247.6 42 1244.8 34.5 L1241.8 25.3 L1236 31 L1206.5 26.2"/>
<path d="M1202.8 38 Q1213 39 1223.6 38.6 M1239.2 37 L1246.6 37.4" stroke-width="1"/>
<path d="M1238.2 33 C1238.2 50 1236.8 75 1236.3 95.4" stroke-width="1.2" stroke="#a0a0a0"/>
<path d="M1236.4 74.5 L1236.3 94.5" stroke="#808080" stroke-width="2"/>
<!-- A back -->
<path d="M1204.8 106.6 L1241.3 106.6 C1243 111 1244.2 114.5 1245.2 118.3 C1247 125 1248.2 131 1248.3 137 L1248 175.7 L1197.4 175.7 L1197.4 137 C1197.8 131 1198.8 125 1200.2 118.3 C1201.4 114.5 1203 110.5 1204.8 106.6 Z"/>
<path d="M1200.4 117.9 L1245.1 117.9" stroke-width="1"/>
<!-- B front -->
<path d="M1206.4 218.2 C1202.6 227 1200.6 235 1200.2 243.8 C1199.6 251 1199.4 259 1199.4 267 L1199.9 317.6 L1234.3 317.4 M1236.2 317.4 L1248.3 317.6 L1248.4 251.6 C1248 244 1246.8 237.5 1245.2 231.4 L1241 217.7 L1235.3 224.2 L1206.4 218.2"/>
<path d="M1203.4 229.6 Q1212 230.8 1222 230.4 M1237.6 229.4 L1245 229.8" stroke-width="1"/>
<path d="M1236 225.4 C1236.4 240 1235.4 258 1235.2 267" stroke-width="1"/>
<path d="M1235.2 266 L1235 316.6" stroke="#808080" stroke-width="2"/>
<!-- B back -->
<path d="M1208.2 332 L1243.7 332 C1245.6 336 1247 339.5 1248 343.3 C1249.6 350 1250.4 356 1250.5 362.7 L1250.3 431.3 L1200.4 431.3 L1200 362.7 C1200.4 356 1201.6 350 1203.3 343.3 C1204.6 339.5 1206.2 335.8 1208.2 332 Z"/>
<path d="M1203.4 343.2 L1247.9 343.2" stroke-width="1"/>
<!-- C front -->
<path d="M1206.9 478.8 C1204.6 487 1203 494 1201.8 502 C1200 517 1197.6 531 1195.1 545.7 L1188.4 581 C1192 582.6 1196 580.4 1200 581.6 C1205 583 1210 580.6 1215 581.6 C1221 582.8 1227 580.6 1234 581.2 M1236.6 582.6 C1241 583.6 1246 581.2 1251 582 C1255 582.8 1259 580.4 1263.2 581 L1253.9 532.2 C1251.6 519 1249.4 507 1247.2 495.3 L1243 479.8 L1238 486.4 L1206.9 478.8"/>
<path d="M1204.4 490.8 Q1214 492.6 1224 492.2 M1240 491.8 L1247 492.6" stroke-width="1"/>
<path d="M1238.2 487.2 C1238.6 500 1237 517 1236.3 529" stroke-width="1"/>
<path d="M1236.3 528.5 L1235.4 580.6" stroke="#808080" stroke-width="2"/>
<!-- C back -->
<path d="M1207.2 597 L1244.1 597 C1245.8 601 1247 604.6 1248 608.3 C1250.6 622 1252.8 636 1254.8 649 L1263.1 698.6 C1259 700.4 1255 697.6 1251 698.8 C1246 700.4 1241 698 1236 699.4 C1231 700.8 1227 698.6 1222 699.6 C1216 700.8 1211 698.2 1206 699.4 C1200 700.8 1194 697.6 1188.7 698.6 L1197.5 649 C1199.4 636 1201.4 622 1203.3 608.3 C1204.4 604.6 1205.6 600.8 1207.2 597 Z"/>
<path d="M1203.4 608.6 L1247.9 608.6 M1225 608.8 L1225 699.4" stroke-width="1"/>
</g>
<g fill="none" stroke="#c4c4c4" stroke-width="1" stroke-linecap="round">
<!-- A gathers -->
<path d="M1233 32.6 L1203.3 54.1" stroke="#999" stroke-width="1.1"/>
<path d="M1236.2 33.2 L1209.8 68.2 M1236.4 33.6 L1221.4 62 M1236.6 34 L1224 78 M1236.8 34.4 L1229.2 89 M1237 34 L1234.4 85 M1237.6 33.6 L1244.6 82.4 M1238 33 L1242.2 68 M1238.2 32.6 L1247.4 59 M1236 32 L1208 34 M1236 32.4 L1206 42"/>
<!-- B gathers -->
<path d="M1235.2 224.6 L1203.4 245.4" stroke="#999" stroke-width="1.1"/>
<path d="M1235 225 L1209.6 254.8 M1235.2 225.4 L1215 264 M1235.4 225.8 L1217.4 282.6 M1235.6 226 L1228.2 279.6 M1235.8 226 L1229.8 267 M1236.6 225.8 L1243.6 273.2 M1237 225.4 L1246.8 256.2 M1235 224 L1207 226 M1235 224.4 L1205 234 M1236.4 226 L1240 262"/>
<!-- C gathers -->
<path d="M1237.6 486.8 L1204.4 505.4" stroke="#999" stroke-width="1.1"/>
<path d="M1237.4 487.2 L1211 515.4 M1237.6 487.6 L1209.4 539 M1237.8 488 L1225.4 523.8 M1238 488 L1230.4 532.2 M1238.8 487.6 L1245.4 523.8 M1239.2 487.2 L1250.6 508.6 M1237.4 486.4 L1208 486 M1237.4 486.8 L1206 496 M1238.4 488 L1241 540"/>
<path d="M1201 544 L1199.3 574.2 M1213.6 545.8 L1212 579.4 M1228.8 532 L1225.4 566 M1250.6 540.6 L1255.6 574.4 M1243 530 L1246 575"/>
<!-- C back folds -->
<path d="M1203.3 659.8 L1199.4 697.6 M1215.3 662.6 L1212 698.6 M1236.3 668.4 L1237.3 699.4 M1247 651 L1249.9 697.6"/>
</g>
<g font-family="Liberation Sans, sans-serif" font-size="18" fill="#4a4a4a" stroke="#4a4a4a" stroke-width="0.35" text-anchor="middle">
<text x="1223.2" y="199.2">A</text>
<text x="1224.2" y="456.6">B</text>
<text x="1223.6" y="725.8">C</text>
</g>
</svg>
<div style="position:absolute;right:0;top:0;width:6px;height:773px;background:linear-gradient(to right,rgba(185,185,185,0) 0,rgba(185,185,185,0.04) 2px,rgba(185,185,185,0.2) 3.5px,rgba(180,180,180,0.5) 4.5px,rgba(178,178,178,0.9) 5.5px,#b2b2b2 6px)"></div>
</body></html>
